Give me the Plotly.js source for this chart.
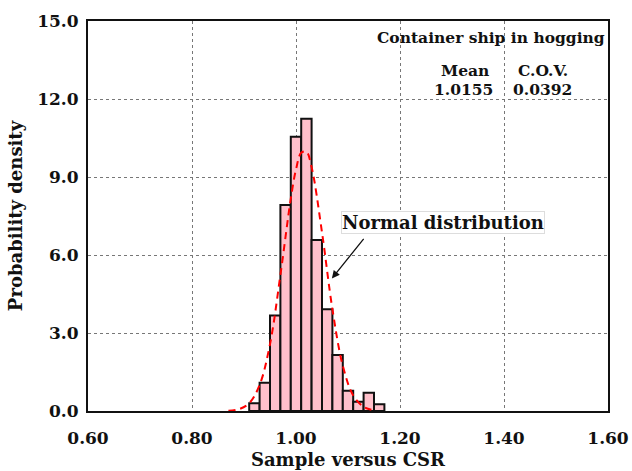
<!DOCTYPE html>
<html>
<head>
<meta charset="utf-8">
<script src="https://cdn.plot.ly/plotly-3.0.1.min.js"></script>
<style>html,body{margin:0;padding:0;background:#fff;}#chart{width:632px;height:471px;}</style>
</head>
<body>
<div id="chart"></div>
<script>
// Histogram bins (centers) and probability densities
const binCenters = [0.92, 0.94, 0.96, 0.98, 1.00, 1.02, 1.04, 1.06, 1.08, 1.10, 1.12, 1.14, 1.16];
const densities  = [0.30, 1.09, 3.67, 7.92, 10.55, 11.24, 6.58, 3.91, 2.15, 0.78, 0.36, 0.70, 0.26];
const binWidth = 0.02;

// Normal distribution curve points
const curveX = [0.87, 0.89, 0.91, 0.93, 0.95, 0.97, 0.99, 1.00, 1.01, 1.02, 1.03, 1.05, 1.07, 1.09, 1.11, 1.13, 1.145];
const curveY = [0.01, 0.07, 0.30, 1.00, 2.57, 5.23, 8.17, 9.29, 9.93, 9.97, 9.38, 6.87, 3.92, 1.74, 0.60, 0.16, 0.05];

const xTicks = [0.6, 0.8, 1.0, 1.2, 1.4, 1.6];
const xTickLabels = ['0.60', '0.80', '1.00', '1.20', '1.40', '1.60'];
const yTicks = [0, 3, 6, 9, 12, 15];
const yTickLabels = ['0.0', '3.0', '6.0', '9.0', '12.0', '15.0'];

const statsTitle = 'Container ship in hogging';
const statsHeaders = ['Mean', 'C.O.V.'];
const statsValues = ['1.0155', '0.0392'];

const FONT = 'DejaVu Serif, Liberation Serif, serif';

const traces = [
  {
    type: 'bar',
    x: binCenters,
    y: densities,
    width: binCenters.map(() => binWidth),
    marker: {color: '#FFC0CB', line: {color: '#111', width: 2}},
    hoverinfo: 'skip'
  },
  {
    type: 'scatter',
    mode: 'lines',
    x: curveX,
    y: curveY,
    line: {color: '#FF0000', width: 2, dash: '7px,5px', shape: 'spline'},
    hoverinfo: 'skip'
  }
];

const axisCommon = {
  showline: true, linecolor: '#111', linewidth: 2, mirror: true,
  showgrid: true, gridcolor: '#777', gridwidth: 1, griddash: 'dot',
  zeroline: false, ticks: '',
  tickfont: {family: FONT, size: 17, color: '#111', weight: 'bold'},
  tickmode: 'array'
};

const layout = {
  width: 632, height: 471,
  margin: {l: 88, r: 24, t: 21, b: 60},
  paper_bgcolor: '#fff', plot_bgcolor: '#fff',
  showlegend: false,
  bargap: 0,
  xaxis: Object.assign({}, axisCommon, {
    range: [0.6, 1.6], tickvals: xTicks, ticktext: xTickLabels,
    ticklabelstandoff: 11,
    title: {text: 'Sample versus CSR', font: {family: FONT, size: 18, color: '#111', weight: 'bold'}, standoff: 6}
  }),
  yaxis: Object.assign({}, axisCommon, {
    range: [0, 15], tickvals: yTicks, ticktext: yTickLabels,
    ticklabelstandoff: 4,
    title: {text: 'Probability density', font: {family: FONT, size: 18, color: '#111', weight: 'bold'}, standoff: 10}
  }),
  annotations: [
    {xref: 'paper', yref: 'paper', x: (491 - 88) / 520, y: (411 - 38) / 390, text: statsTitle, showarrow: false,
     font: {family: FONT, size: 15.5, color: '#111', weight: 'bold'}, xanchor: 'center', yanchor: 'middle'},
    {xref: 'paper', yref: 'paper', x: (465 - 88) / 520, y: (411 - 70) / 390, text: statsHeaders[0], showarrow: false,
     font: {family: FONT, size: 15.5, color: '#111', weight: 'bold'}, xanchor: 'center', yanchor: 'middle'},
    {xref: 'paper', yref: 'paper', x: (543 - 88) / 520, y: (411 - 70) / 390, text: statsHeaders[1], showarrow: false,
     font: {family: FONT, size: 15.5, color: '#111', weight: 'bold'}, xanchor: 'center', yanchor: 'middle'},
    {xref: 'paper', yref: 'paper', x: (463 - 88) / 520, y: (411 - 89) / 390, text: statsValues[0], showarrow: false,
     font: {family: FONT, size: 15.5, color: '#111', weight: 'bold'}, xanchor: 'center', yanchor: 'middle'},
    {xref: 'paper', yref: 'paper', x: (542 - 88) / 520, y: (411 - 89) / 390, text: statsValues[1], showarrow: false,
     font: {family: FONT, size: 15.5, color: '#111', weight: 'bold'}, xanchor: 'center', yanchor: 'middle'},
    {xref: 'paper', yref: 'paper', x: (443 - 88) / 520, y: (411 - 223) / 390, text: 'Normal distribution', showarrow: false,
     font: {family: FONT, size: 18, color: '#111', weight: 'bold'}, xanchor: 'center', yanchor: 'middle',
     bgcolor: '#fff', bordercolor: '#ddd', borderwidth: 1, borderpad: 0},
    {xref: 'x', yref: 'y', x: 1.069, y: 5.1, ax: 33, ay: -41, text: '', showarrow: true,
     arrowhead: 2, arrowsize: 1.2, arrowwidth: 1.3, arrowcolor: '#111', standoff: 0}
  ]
};

Plotly.newPlot('chart', traces, layout, {displayModeBar: false, staticPlot: true});
</script>
</body>
</html>
